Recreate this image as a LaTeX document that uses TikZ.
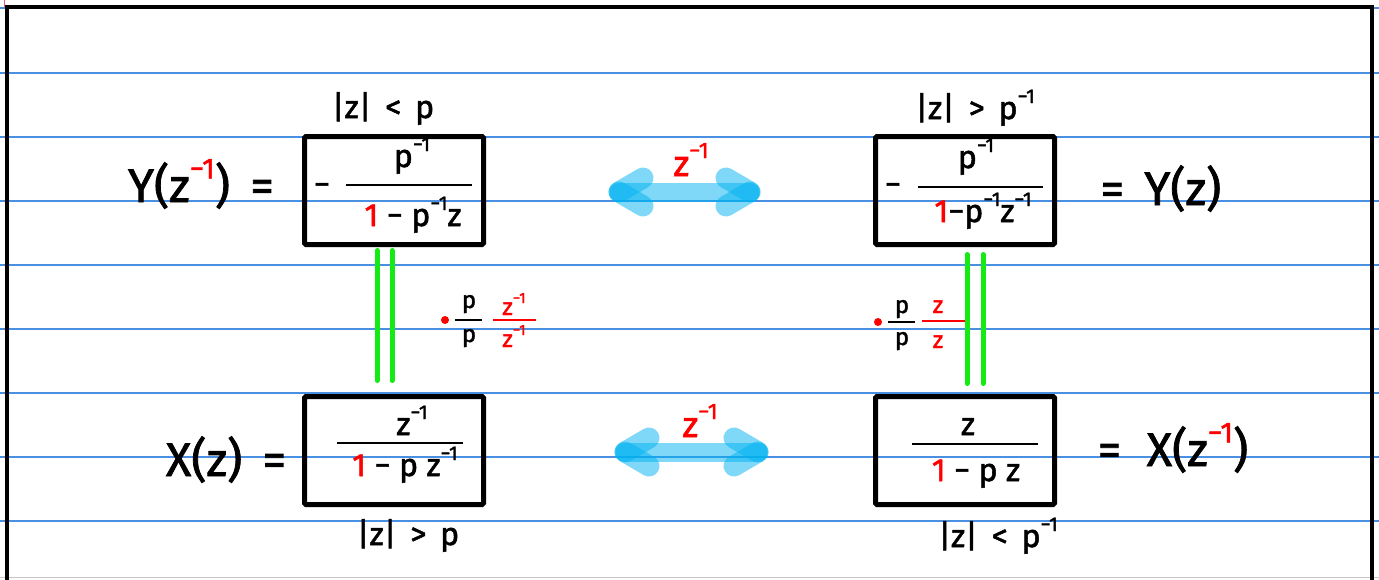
\documentclass[tikz,border=0pt]{standalone}
\usepackage{fontspec}
\setmainfont{Fira Sans}[FakeBold=1.6]
\usepackage{graphicx}
\usetikzlibrary{calc}
\definecolor{ruleblue}{RGB}{74,144,226}
\definecolor{hlgreen}{RGB}{20,235,20}
\definecolor{arrowblue}{RGB}{0,178,240}
\definecolor{pinkm}{RGB}{240,80,160}
\newcommand{\rd}[1]{\textcolor{red}{#1}}
\newcommand{\sps}[1]{\raisebox{0.5em}{\scalebox{0.62}{#1}}}
\begin{document}
\begin{tikzpicture}[x=1pt,y=-1pt,
  frame/.style={line width=3.5pt,black,line join=miter},
  ruleline/.style={ruleblue,line width=1.3pt},
  eqbox/.style={draw,line width=5pt,minimum width=179pt,minimum height=108pt,inner sep=0pt,rounded corners=1.5pt},
  side/.style={anchor=base,inner sep=0pt,font=\fontsize{47}{52}\selectfont},
  boxtxt/.style={anchor=base,inner sep=0pt,font=\fontsize{32}{38}\selectfont},
  roc/.style={anchor=base,inner sep=0pt,font=\fontsize{32}{38}\selectfont},
  small/.style={anchor=base,inner sep=0pt,font=\fontsize{24}{28}\selectfont},
  alabel/.style={anchor=base,inner sep=0pt,text=red,font=\fontsize{36}{42}\selectfont},
  fbar/.style={line width=2.6pt},
  gline/.style={hlgreen,line width=5pt,line cap=round},
  arr/.style={arrowblue,opacity=0.5,line width=19pt,line cap=round},
  arrhead/.style={arrowblue,opacity=0.5,line width=21pt,line cap=round}]
\useasboundingbox (0,0) rectangle (1379,579);
% ruled paper
\foreach \yy in {8,73,137,201,265,329,393,457,521}
  \draw[ruleline] (0,\yy) -- (1379,\yy);
\draw[gray!45,line width=1.5pt] (0,577.5) -- (1379,577.5);
\draw[pinkm,line width=1.5pt] (4.5,0) -- (4.5,7);
\draw[frame] (7,582) -- (7,7) -- (1372,7) -- (1372,582);

% boxes
\node[eqbox] (tl) at (394,190.5) {};
\node[eqbox] (tr) at (965,190.5) {};
\node[eqbox] (bl) at (394,450.5) {};
\node[eqbox] (br) at (965,450.5) {};

% top-left content
\node[boxtxt] (tlm) at (322,195) {−};
\draw[fbar] (346,185) -- (472,185);
\node[boxtxt] (tln) at (412,167) {p\sps{−1}};
\node[boxtxt] (tld) at (413,226) {\rd{1} − p\sps{−1}z};
% top-right content
\node[boxtxt] (trm) at (893,195) {−};
\draw[fbar] (918,187) -- (1043,187);
\node[boxtxt] (trn) at (976,168) {p\sps{−1}};
\node[boxtxt] (trd) at (983,222) {\rd{1}−p\sps{−1}z\sps{−1}};
% bottom-left content
\draw[fbar] (337,443) -- (463,443);
\node[boxtxt] (bln) at (412,435) {z\sps{−1}};
\node[boxtxt] (bld) at (405,476) {\rd{1} − p z\sps{−1}};
% bottom-right content
\draw[fbar] (912,444) -- (1038,444);
\node[boxtxt] (brn) at (968,435) {z};
\node[boxtxt] (brd) at (976,481) {\rd{1} − p z};

% region labels
\node[roc] (tlr) at (383,118) {|z| \,<\, p};
\node[roc] (trr) at (975,119) {|z| \,>\, p\sps{−1}};
\node[roc] (blr) at (408,545) {|z| \,>\, p};
\node[roc] (brr) at (998,547) {|z| \,<\, p\sps{−1}};

% side labels
\node[side] (ty) at (201,202) {Y(z\sps{\rd{−1}}) \,=};
\node[side] (tz) at (1161,205) {= \,Y(z)};
\node[side] (bx) at (226,476) {X(z) \,=};
\node[side] (bz) at (1173,466) {= \;X(z\sps{\rd{−1}})};

% green double equals connectors
\draw[gline] ([xshift=-17pt,yshift=-3.5pt]tl.south) -- ([xshift=-17pt,yshift=13.5pt]bl.north);
\draw[gline] ([xshift=-2pt,yshift=-3.5pt]tl.south) -- ([xshift=-2pt,yshift=13.5pt]bl.north);
\draw[gline] ([xshift=2pt,yshift=-7.5pt]tr.south) -- ([xshift=2pt,yshift=10.5pt]br.north);
\draw[gline] ([xshift=18pt,yshift=-7.5pt]tr.south) -- ([xshift=18pt,yshift=10.5pt]br.north);

% multiplication factors
\fill[red] (445,320) circle (4);
\node[small] (lp1) at (469,308) {p};
\draw[line width=2pt] (455,320) -- (482,320);
\node[small] (lp2) at (469,342) {p};
\draw[red,line width=2.6pt] (493,320) -- (536,320);
\node[small,text=red] (lz1) at (514,315) {z\sps{−1}};
\node[small,text=red] (lz2) at (514,347) {z\sps{−1}};

\fill[red] (878,322) circle (4);
\node[small] (rp1) at (902,313) {p};
\draw[line width=2pt] (888,322) -- (915,322);
\node[small] (rp2) at (902,345) {p};
\draw[red,line width=2.6pt] (922,321) -- (965,321);
\node[small,text=red] (rz1) at (938,313) {z};
\node[small,text=red] (rz2) at (938,348) {z};

% light-blue double arrows
\coordinate (a1l) at (619,192);
\coordinate (a1r) at (750,192);
\draw[arr] (a1l) -- (a1r);
\draw[arrhead] (a1l) -- ++(24,-14);
\draw[arrhead] (a1l) -- ++(24,14);
\draw[arrhead] (a1r) -- ++(-24,-14);
\draw[arrhead] (a1r) -- ++(-24,14);
\node[alabel] (l1) at (691,176) {z\sps{−1}};

\coordinate (a2l) at (625,452);
\coordinate (a2r) at (758,452);
\draw[arr] (a2l) -- (a2r);
\draw[arrhead] (a2l) -- ++(24,-14);
\draw[arrhead] (a2l) -- ++(24,14);
\draw[arrhead] (a2r) -- ++(-24,-14);
\draw[arrhead] (a2r) -- ++(-24,14);
\node[alabel] (l2) at (700,437) {z\sps{−1}};
\end{tikzpicture}
\end{document}
